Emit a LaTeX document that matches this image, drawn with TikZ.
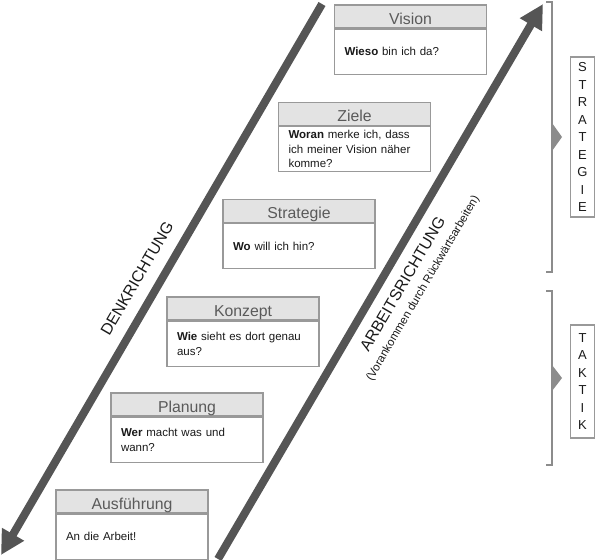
\documentclass[tikz,border=0pt]{standalone}
\usepackage{fontspec}
\setmainfont{Liberation Sans}
\usetikzlibrary{arrows.meta,positioning}
\definecolor{frame}{HTML}{999999}
\definecolor{band}{HTML}{E3E3E3}
\definecolor{headtext}{HTML}{5A5A5A}
\definecolor{shaft}{HTML}{555555}
\definecolor{bracegray}{HTML}{8C8C8C}
\definecolor{ink}{HTML}{1A1A1A}

\begin{document}
\begin{tikzpicture}[
  x=1pt, y=-1pt,
  head/.style={draw=frame, fill=band, line width=1.2pt, minimum width=152pt, minimum height=23pt, inner sep=0pt, text height=15pt, text depth=0pt, text=headtext, font=\fontsize{15.8}{18}\selectfont},
  body/.style={draw=frame, fill=white, line width=1.2pt, minimum width=152pt, minimum height=45pt, text width=132pt, inner xsep=10pt, inner ysep=3pt, align=left, text=ink, font=\fontsize{11.5}{14.5}\selectfont},
  side/.style={draw=frame, line width=1.2pt, minimum width=24pt, inner sep=0pt, align=center, text=ink, font=\fontsize{13}{17.5}\selectfont},
  bigarr/.style={-{Triangle[length=24pt, width=24pt]}, draw=shaft, line width=8pt},
  brace/.style={draw=bracegray, line width=2pt},
  lab/.style={sloped, inner sep=0pt, text=ink, font=\fontsize{16}{19}\selectfont},
  sublab/.style={sloped, inner sep=0pt, text=ink, font=\fontsize{11.5}{14}\selectfont}
]
\useasboundingbox (0,0) rectangle (595,560);

% ebenen
\node[head] (vis-t) at (410.5,16.5) {Vision};
\node[body, below=0pt of vis-t] (vis) {\textbf{Wieso} bin ich da?};
\node[head] (zie-t) at (354.5,114) {Ziele};
\node[body, below=0pt of zie-t] (zie) {\textbf{Woran} merke ich, dass ich meiner Vision näher komme?};
\node[head] (str-t) at (299,211) {Strategie};
\node[body, below=0pt of str-t] (str) {\textbf{Wo} will ich hin?};
\node[head] (kon-t) at (243,308.5) {Konzept};
\node[body, below=0pt of kon-t] (kon) {\textbf{Wie} sieht es dort genau aus?};
\node[head] (pla-t) at (187,404.5) {Planung};
\node[body, below=0pt of pla-t] (pla) {\textbf{Wer} macht was und wann?};
\node[head] (aus-t) at (132,501.5) {Ausführung};
\node[body, below=0pt of aus-t] (aus) {An die Arbeit!};

% richtungen
\coordinate (denk-a) at (322,4);
\coordinate (denk-b) at (1,555);
\coordinate (arb-a) at (218,559);
\coordinate (arb-b) at (543,4);
\draw[bigarr] (denk-a) -- node[lab, above=12pt, pos=0.518] (denk-lab) {DENKRICHTUNG} (denk-b);
\draw[bigarr] (arb-a) -- node[lab, below=10.5pt, pos=0.514] (arb-lab) {ARBEITSRICHTUNG}
  node[sublab, below=31pt, pos=0.524] (arb-sub) {(Vorankommen durch Rückwärtsarbeiten)} (arb-b);

% klammern
\draw[brace] (546,2) -- (552,2) -- (552,272) -- (546,272);
\fill[bracegray] (552,123) -- (562,137) -- (552,151) -- cycle;
\draw[brace] (546,291) -- (552,291) -- (552,465) -- (546,465);
\fill[bracegray] (552,365) -- (562,378) -- (552,391) -- cycle;

\node[side, minimum height=160pt] (strat) at (582.5,137) {S\\T\\R\\A\\T\\E\\G\\I\\E};
\node[side, minimum height=113pt] (takt) at (582.5,381.5) {T\\A\\K\\T\\I\\K};
\end{tikzpicture}
\end{document}
